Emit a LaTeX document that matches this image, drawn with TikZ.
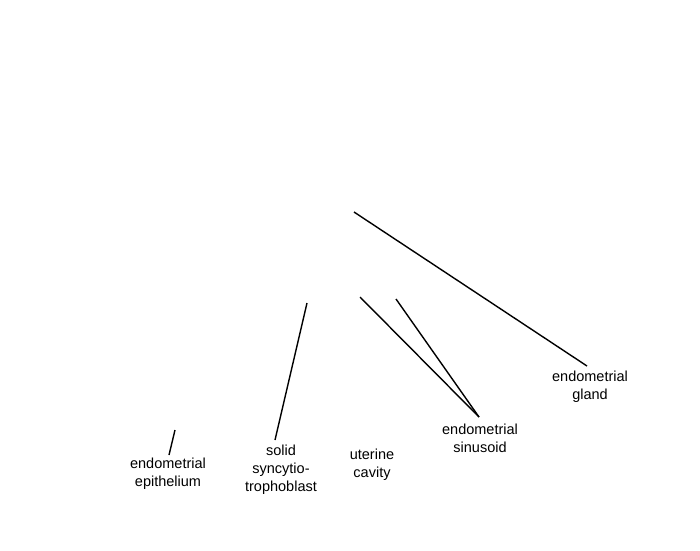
\documentclass[tikz,border=0pt]{standalone}
\usepackage{fontspec}
\setmainfont{Liberation Sans}
\begin{document}
\begin{tikzpicture}[x=1pt,y=-1pt,
  lbl/.style={align=center,inner sep=0pt,font=\fontsize{14.5}{18}\selectfont},
  ln/.style={line width=1.4pt,black}]
\useasboundingbox (0,0) rectangle (700,550);
\node[lbl] (epi) at (168,474) {endometrial\\epithelium};
\node[lbl] (syn) at (281,470) {solid\\syncytio-\\trophoblast};
\node[lbl] (cav) at (372,465) {uterine\\cavity};
\node[lbl] (sin) at (480,438) {endometrial\\sinusoid};
\node[lbl] (gla) at (590,387) {endometrial\\gland};
\coordinate (e0) at (175,430); \coordinate (e1) at (169,455);
\coordinate (s0) at (307,303); \coordinate (s1) at (275,440);
\coordinate (n0) at (360,297); \coordinate (n1) at (396,299); \coordinate (n2) at (479,417);
\coordinate (g0) at (354,212); \coordinate (g1) at (587,366);
\draw[ln] (e0) -- (e1);
\draw[ln] (s0) -- (s1);
\draw[ln] (n0) -- (n2);
\draw[ln] (n1) -- (n2);
\draw[ln] (g0) -- (g1);
\end{tikzpicture}
\end{document}
